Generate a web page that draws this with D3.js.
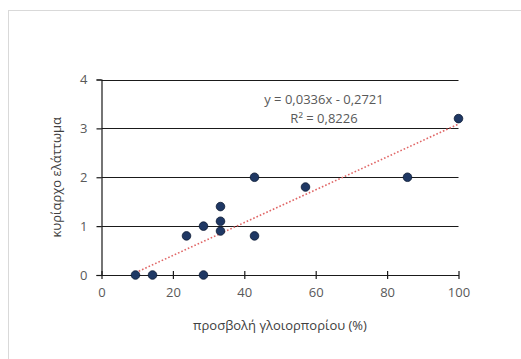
<!DOCTYPE html>
<html>
<head>
<meta charset="utf-8">
<script src="https://cdn.jsdelivr.net/npm/d3@7"></script>
<style>
  html, body { margin: 0; padding: 0; background: #fff; }
  svg { display: block; font-family: "Open Sans", "Noto Sans", sans-serif; }
</style>
</head>
<body>
<svg id="chart" width="521" height="359"></svg>
<script>
// Infection rate (%) and dominant defect score for each sample
const infection = [9.52, 14.29, 28.57, 23.81, 28.57, 33.33, 33.33, 33.33, 42.86, 42.86, 57.14, 85.71, 100];
const defect    = [0,    0,     0,     0.8,   1,     1.4,   1.1,   0.9,   2,     0.8,   1.8,   2,     3.2];

// Linear trend as stated in the label
const slope = 0.0336;
const intercept = -0.2721;
const rSquared = 0.8226;

const xTicks = [0, 20, 40, 60, 80, 100];
const yTicks = [0, 1, 2, 3, 4];

const xTitle = "προσβολή γλοιορπορίου (%)";
const yTitle = "κυρίαρχο ελάττωμα";

const svg = d3.select("#chart");

// Chart area frame
svg.append("rect")
  .attr("x", 8.5).attr("y", 10.5)
  .attr("width", 530).attr("height", 360)
  .attr("fill", "#fff")
  .attr("stroke", "#d9d9d9")
  .attr("stroke-width", 1);

const x = d3.scaleLinear().domain([0, 100]).range([101.5, 458.5]);
const y = d3.scaleLinear().domain([0, 4]).range([275, 79.5]);

const gr = s => s.replace(".", ",");

// Horizontal gridlines
svg.append("g")
  .selectAll("line")
  .data(yTicks.filter(d => d > 0))
  .join("line")
  .attr("x1", x(0)).attr("x2", x(100))
  .attr("y1", d => Math.round(y(d)) + 0.5)
  .attr("y2", d => Math.round(y(d)) + 0.5)
  .attr("stroke", "#1a1a1a")
  .attr("stroke-width", 1.2);

// Y axis
const yAxis = svg.append("g")
  .attr("transform", `translate(${x(0)},0)`)
  .call(d3.axisLeft(y).tickValues(yTicks).tickSize(5).tickPadding(9).tickFormat(d3.format("d")));
yAxis.select(".domain").attr("stroke", "#1a1a1a").attr("stroke-width", 1.2);
yAxis.selectAll(".tick line").attr("stroke", "#1a1a1a").attr("stroke-width", 1.2);
yAxis.selectAll(".tick text").attr("fill", "#595959").style("font-size", "13px").style("font-family", "Open Sans");

// X axis with crossing ticks
const xAxis = svg.append("g")
  .attr("transform", `translate(0,${y(0)})`)
  .call(d3.axisBottom(x).tickValues(xTicks).tickSizeInner(4).tickSizeOuter(0).tickPadding(9).tickFormat(d3.format("d")));
xAxis.select(".domain").attr("stroke", "#1a1a1a").attr("stroke-width", 1.2);
xAxis.selectAll(".tick line").attr("y1", -4).attr("y2", 4).attr("stroke", "#1a1a1a").attr("stroke-width", 1.2);
xAxis.selectAll(".tick text").attr("fill", "#595959").style("font-size", "13px").style("font-family", "Open Sans");

// Trend line across the observed range
const xMin = d3.min(infection), xMax = d3.max(infection);
svg.append("line")
  .attr("x1", x(xMin)).attr("y1", y(slope * xMin + intercept))
  .attr("x2", x(xMax)).attr("y2", y(slope * xMax + intercept))
  .attr("stroke", "#e06666")
  .attr("stroke-width", 1.6)
  .attr("stroke-dasharray", "1.6 2");

// Data points
svg.append("g")
  .selectAll("circle")
  .data(infection.map((v, i) => [v, defect[i]]))
  .join("circle")
  .attr("cx", d => x(d[0]))
  .attr("cy", d => y(d[1]))
  .attr("r", 4.3)
  .attr("fill", "#1f3864")
  .attr("stroke", "#0d1b33")
  .attr("stroke-width", 0.8);

// Trend equation label
const eq = svg.append("text")
  .attr("x", 324)
  .attr("fill", "#595959")
  .attr("text-anchor", "middle")
  .style("font-size", "13px");
eq.append("tspan").attr("x", 324).attr("y", 104)
  .text(`y = ${gr(d3.format(".4f")(slope))}x - ${gr(d3.format(".4f")(Math.abs(intercept)))}`);
eq.append("tspan").attr("x", 324).attr("y", 123)
  .text(`R² = ${gr(d3.format(".4f")(rSquared))}`);

// Axis titles
svg.append("text")
  .attr("x", (x(0) + x(100)) / 2)
  .attr("y", 330)
  .attr("text-anchor", "middle")
  .attr("fill", "#404040")
  .style("font-size", "13px")
  .text(xTitle);

svg.append("text")
  .attr("transform", `translate(61,${(y(0) + y(4)) / 2}) rotate(-90)`)
  .attr("text-anchor", "middle")
  .attr("fill", "#404040")
  .style("font-size", "13px")
  .text(yTitle);
</script>
</body>
</html>
